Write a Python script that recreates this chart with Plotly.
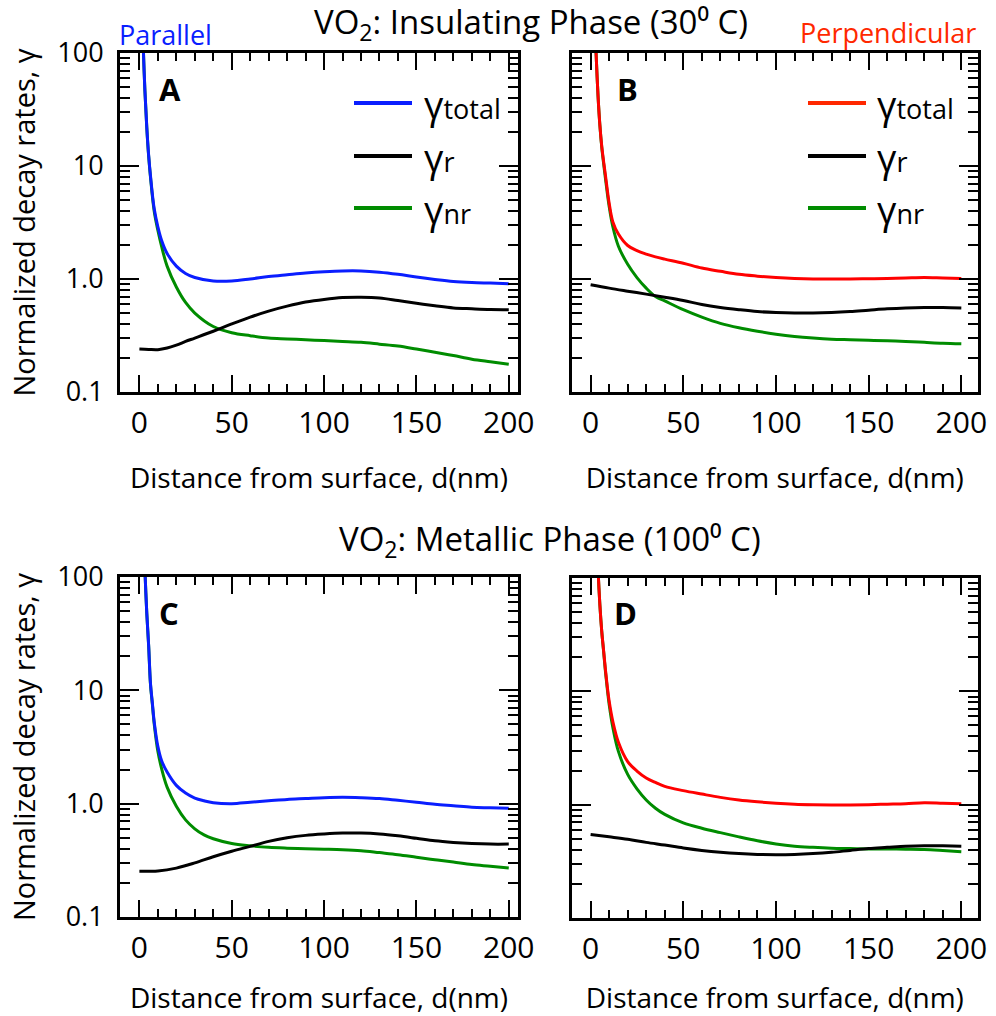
import plotly.graph_objects as go

# ---------------- data: normalized decay rates vs distance d (nm) ----------------
# Panel A: insulating phase, parallel dipole
D_A = [1.8, 2, 3, 4, 5, 6, 8, 10, 12, 15, 20, 25, 30, 40, 50, 60, 70, 80, 90, 100,
       110, 120, 130, 140, 150, 160, 170, 180, 190, 200]
A_TOTAL = [170, 125, 46, 22, 12.5, 8.2, 4.2, 2.9, 2.2, 1.68, 1.30, 1.12, 1.03, 0.96, 0.96, 1.0,
           1.05, 1.09, 1.13, 1.16, 1.18, 1.18, 1.15, 1.1, 1.04, 0.99, 0.95, 0.93, 0.92, 0.91]
A_NR = [170, 125, 46, 22, 12.3, 8.0, 4.0, 2.7, 1.95, 1.3, 0.85, 0.62, 0.50, 0.38, 0.335, 0.315,
        0.30, 0.295, 0.29, 0.285, 0.28, 0.275, 0.265, 0.255, 0.24, 0.225, 0.21, 0.195, 0.185, 0.176]
D_A_R = [0, 5, 10, 15, 20, 25, 30, 40, 50, 60, 70, 80, 90, 100, 110, 120, 130, 140, 150,
         160, 170, 180, 190, 200]
A_R = [0.24, 0.238, 0.237, 0.245, 0.26, 0.28, 0.30, 0.345, 0.40, 0.46, 0.52, 0.575, 0.625,
       0.66, 0.685, 0.69, 0.68, 0.645, 0.61, 0.58, 0.555, 0.545, 0.537, 0.535]

# Panel B: insulating phase, perpendicular dipole
D_B = [2.5, 3, 4, 5, 6, 7, 8, 10, 12, 15, 20, 25, 30, 35, 40, 50, 60, 70, 80, 90, 100,
       110, 120, 130, 140, 150, 160, 170, 180, 190, 200]
B_TOTAL = [150, 95, 42, 23, 15, 11, 8.3, 4.7, 3.2, 2.5, 1.98, 1.78, 1.66, 1.57, 1.5, 1.38, 1.25,
           1.17, 1.1, 1.06, 1.03, 1.01, 1.0, 1.0, 1.0, 1.005, 1.01, 1.02, 1.03, 1.02, 1.01]
B_NR = [150, 95, 42, 23, 14.7, 10.6, 7.8, 4.4, 2.9, 1.95, 1.35, 1.03, 0.83, 0.70, 0.64, 0.535,
        0.46, 0.405, 0.37, 0.345, 0.325, 0.31, 0.30, 0.293, 0.29, 0.287, 0.284, 0.28, 0.275,
        0.27, 0.267]
D_B_R = [0, 10, 20, 30, 40, 50, 60, 70, 80, 90, 100, 110, 120, 130, 140, 150, 160, 170,
         180, 190, 200]
B_R = [0.89, 0.83, 0.78, 0.735, 0.69, 0.645, 0.595, 0.56, 0.535, 0.515, 0.505, 0.50, 0.50,
       0.505, 0.515, 0.53, 0.545, 0.555, 0.56, 0.56, 0.555]

# Panel C: metallic phase, parallel dipole
D_C = [2.5, 3, 4, 5, 6, 7, 8, 10, 12, 15, 20, 25, 30, 35, 40, 50, 60, 70, 80, 90, 100, 110,
       120, 130, 140, 150, 160, 170, 180, 190, 200]
C_TOTAL = [210, 115, 48, 25, 11.5, 7.8, 5.3, 3.2, 2.4, 1.9, 1.45, 1.24, 1.12, 1.06, 1.02, 1.0,
           1.03, 1.06, 1.09, 1.11, 1.13, 1.14, 1.13, 1.11, 1.07, 1.03, 0.99, 0.96, 0.93, 0.92,
           0.91]
C_NR = [210, 115, 48, 25, 11.3, 7.6, 5.1, 2.9, 2.05, 1.4, 0.95, 0.72, 0.60, 0.53, 0.49, 0.445,
        0.425, 0.412, 0.405, 0.40, 0.397, 0.393, 0.385, 0.37, 0.355, 0.337, 0.32, 0.305, 0.29,
        0.28, 0.27]
D_C_R = [0, 10, 20, 30, 40, 50, 60, 70, 80, 90, 100, 110, 120, 130, 140, 150, 160, 170,
         180, 190, 200]
C_R = [0.253, 0.255, 0.27, 0.30, 0.34, 0.38, 0.42, 0.465, 0.50, 0.525, 0.54, 0.55, 0.55,
       0.54, 0.52, 0.495, 0.47, 0.455, 0.445, 0.44, 0.44]

# Panel D: metallic phase, perpendicular dipole
D_D = [3.5, 4, 5, 6, 7, 8, 9, 10, 12, 15, 20, 25, 30, 35, 40, 50, 60, 70, 80, 90, 100, 110,
       120, 130, 140, 150, 160, 170, 180, 190, 200]
D_TOTAL = [190, 120, 58, 34, 23, 15.5, 11, 8.2, 5.4, 3.55, 2.4, 1.98, 1.72, 1.57, 1.45, 1.33,
           1.24, 1.16, 1.1, 1.06, 1.03, 1.01, 1.0, 0.995, 0.995, 1.0, 1.01, 1.02, 1.04, 1.03, 1.02]
D_NR = [190, 120, 58, 34, 22.6, 15, 10.5, 7.7, 4.8, 2.95, 1.85, 1.38, 1.10, 0.93, 0.82, 0.69,
        0.62, 0.567, 0.52, 0.48, 0.45, 0.43, 0.42, 0.413, 0.41, 0.407, 0.406, 0.405, 0.403,
        0.395, 0.385]
D_D_R = [0, 10, 20, 30, 40, 50, 60, 70, 80, 90, 100, 110, 120, 130, 140, 150, 160, 170,
         180, 190, 200]
D_R = [0.545, 0.52, 0.495, 0.465, 0.44, 0.415, 0.395, 0.38, 0.37, 0.364, 0.362, 0.364, 0.37,
       0.38, 0.395, 0.41, 0.42, 0.43, 0.435, 0.433, 0.43]

# tick values / labels
X_TICKS = [0, 50, 100, 150, 200]
X_TICK_TEXT = ["0", "50", "100", "150", "200"]
X_MINOR = [10, 20, 30, 40, 60, 70, 80, 90, 110, 120, 130, 140, 160, 170, 180, 190]
Y_TICKS = [0.1, 1, 10, 100]
Y_TICK_TEXT = ["0.1", "1.0", "10", "100"]
Y_MINOR = [m * 10 ** e for e in (-1, 0, 1) for m in range(2, 10)]

PANEL_LETTERS = ["A", "B", "C", "D"]
LEGEND_LABELS = ["total", "r", "nr"]

# ---------------- styling ----------------
W, H = 996, 1016
FONT = "Open Sans"
BLUE = "#0a1eff"
RED = "#ff0000"
RED_TXT = "#ff2800"
GREEN = "#008c00"
BLACK = "#000000"

def px(xp):
    return xp / W

def py(yp):
    return 1 - yp / H

# plot boxes in pixels: (left, right, top, bottom), x range
BOXES = [
    (120, 518, 53, 392, [-10.5, 205]),
    (571.7, 978, 53, 392, [-10.2, 209]),
    (120, 518, 577, 917, [-10.5, 205]),
    (571.7, 978, 578, 918, [-10.2, 209]),
]

panels = [
    (D_A, A_TOTAL, A_NR, D_A_R, A_R, BLUE),
    (D_B, B_TOTAL, B_NR, D_B_R, B_R, RED),
    (D_C, C_TOTAL, C_NR, D_C_R, C_R, BLUE),
    (D_D, D_TOTAL, D_NR, D_D_R, D_R, RED),
]

fig = go.Figure()
layout = dict(
    width=W, height=H,
    margin=dict(l=0, r=0, t=0, b=0, autoexpand=False),
    paper_bgcolor="white", plot_bgcolor="white",
    showlegend=False,
    font=dict(family=FONT, color="black", size=27),
)

for i, (d_tot, tot, nr, d_r, r, col) in enumerate(panels):
    n = "" if i == 0 else str(i + 1)
    xa, ya = "x" + n, "y" + n
    line_kw = dict(shape="spline", smoothing=1.0, width=3)
    fig.add_trace(go.Scatter(x=d_tot, y=nr, mode="lines", xaxis=xa, yaxis=ya,
                             line=dict(color=GREEN, **line_kw)))
    fig.add_trace(go.Scatter(x=d_r, y=r, mode="lines", xaxis=xa, yaxis=ya,
                             line=dict(color=BLACK, **line_kw)))
    fig.add_trace(go.Scatter(x=d_tot, y=tot, mode="lines", xaxis=xa, yaxis=ya,
                             line=dict(color=col, **line_kw)))

    left, right, top, bottom, xr = BOXES[i]
    layout["xaxis" + n] = dict(
        domain=[px(left), px(right)], range=xr, anchor=ya, automargin=False,
        showline=True, linewidth=3, linecolor="black", mirror="ticks",
        ticks="inside", ticklen=17, tickwidth=2, tickcolor="black",
        tickvals=X_TICKS, ticktext=X_TICK_TEXT,
        tickfont=dict(size=30), ticklabelstandoff=2,
        minor=dict(tickvals=X_MINOR, ticks="inside", ticklen=8, tickwidth=2,
                   tickcolor="black", showgrid=False),
        showgrid=False, zeroline=False,
        title=dict(text="Distance from surface, d(nm)", font=dict(size=28), standoff=28),
    )
    left_col = i in (0, 2)
    ydict = dict(
        domain=[py(bottom), py(top)], type="log", range=[-1, 2], anchor=xa, automargin=False,
        showline=True, linewidth=3, linecolor="black", mirror="ticks",
        ticks="inside", ticklen=19, tickwidth=2, tickcolor="black",
        tickvals=Y_TICKS, ticktext=Y_TICK_TEXT, showticklabels=left_col,
        tickfont=dict(size=27), ticklabelstandoff=8,
        minor=dict(tickvals=Y_MINOR, ticks="inside", ticklen=10, tickwidth=2,
                   tickcolor="black", showgrid=False),
        showgrid=False, zeroline=False,
    )
    if left_col:
        ydict["title"] = dict(text="Normalized decay rates, γ", font=dict(size=29), standoff=14)
    layout["yaxis" + n] = ydict

annotations = []
shapes = []

# headings
annotations.append(dict(text="VO<sub>2</sub>: Insulating Phase (30⁰ C)",
                        x=px(531), y=py(24), xref="paper", yref="paper",
                        xanchor="center", yanchor="middle", showarrow=False,
                        font=dict(size=33)))
annotations.append(dict(text="VO<sub>2</sub>: Metallic Phase (100⁰ C)",
                        x=px(550), y=py(540), xref="paper", yref="paper",
                        xanchor="center", yanchor="middle", showarrow=False,
                        font=dict(size=33)))
annotations.append(dict(text="Parallel", x=px(117), y=py(34), xref="paper", yref="paper",
                        xanchor="left", yanchor="middle", showarrow=False,
                        font=dict(size=27, color=BLUE)))
annotations.append(dict(text="Perpendicular", x=px(978), y=py(33), xref="paper", yref="paper",
                        xanchor="right", yanchor="middle", showarrow=False,
                        font=dict(size=27, color=RED_TXT)))

# panel letters
letter_pos = [(157, 89), (615, 89), (157, 613), (612, 613)]
for letter, (lx, ly) in zip(PANEL_LETTERS, letter_pos):
    annotations.append(dict(text="<b>%s</b>" % letter, x=px(lx), y=py(ly),
                            xref="paper", yref="paper", xanchor="left", yanchor="middle",
                            showarrow=False, font=dict(size=31)))

# in-panel keys for panels A and B
key_rows = [103, 156, 208]
for (x0, x1, tx, main_col) in [(354, 412, 422, BLUE), (808, 866, 875, RED_TXT)]:
    cols = [main_col, BLACK, GREEN]
    for lab, yy, c in zip(LEGEND_LABELS, key_rows, cols):
        shapes.append(dict(type="line", xref="paper", yref="paper",
                           x0=px(x0), x1=px(x1), y0=py(yy), y1=py(yy),
                           line=dict(color=c, width=4)))
        annotations.append(dict(
            text='<span style="font-size:38px">γ</span>%s' % lab,
            x=px(tx), y=py(yy + 1), xref="paper", yref="paper",
            xanchor="left", yanchor="middle", showarrow=False,
            font=dict(size=27)))

layout["annotations"] = annotations
layout["shapes"] = shapes
fig.update_layout(**layout)
fig.write_html("out.html")
